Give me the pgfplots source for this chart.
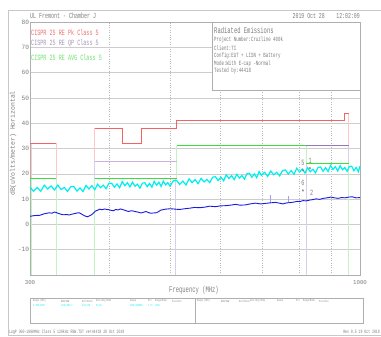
\documentclass[border=0pt]{standalone}
\usepackage{pgfplots}
\pgfplotsset{compat=1.18}
\usepackage{fontspec}
\setmainfont{Liberation Sans}
\newfontfamily\pf[FakeStretch=0.64]{Liberation Mono}
\newfontfamily\pfw[FakeStretch=0.95]{Liberation Mono}
\definecolor{framegray}{RGB}{200,200,200}
\definecolor{axisgray}{RGB}{175,175,175}
\definecolor{gridgray}{RGB}{205,205,205}
\definecolor{vgrid}{RGB}{185,185,185}
\definecolor{txtgray}{RGB}{125,125,125}
\definecolor{limred}{RGB}{242,100,100}
\definecolor{limqpL}{RGB}{200,178,222}
\definecolor{limqp}{RGB}{150,120,185}
\definecolor{limgreen}{RGB}{60,222,60}
\definecolor{vpink}{RGB}{255,200,200}
\definecolor{vgreen}{RGB}{195,242,195}
\definecolor{vlav}{RGB}{215,208,236}
\definecolor{pkcyan}{RGB}{0,238,238}
\definecolor{qpblue}{RGB}{25,25,225}
\definecolor{spike}{RGB}{160,160,240}
\definecolor{legred}{RGB}{240,110,110}
\definecolor{legqp}{RGB}{165,150,185}
\definecolor{leggreen}{RGB}{110,225,110}
\begin{document}
\begin{tikzpicture}[x=1pt,y=1pt]
\path[use as bounding box] (0,0) rectangle (381,337);
\draw[framegray, line width=0.6pt] (381,327) -- (8,327) -- (8,1.3) -- (381,1.3);
\begin{axis}[
  at={(30pt,62pt)}, anchor=south west, scale only axis,
  width=330pt, height=253pt,
  xmode=log, xmin=300, xmax=1000, ymin=-20, ymax=80,
  xtick={300,400,500,600,700,800,900,1000},
  xticklabels={300,,,,,,,1000},
  ytick={-20,-10,0,10,20,30,40,50,60,70,80},
  yticklabels={,-10,0,10,20,30,40,50,60,70,80},
  major tick length=0pt, minor tick num=0,
  xmajorgrids, ymajorgrids,
  x grid style={vgrid, dotted, line width=0.4pt},
  y grid style={gridgray, line width=0.5pt},
  axis line style={axisgray, line width=0.6pt},
  xticklabel style={font=\pfw\fontsize{6}{6}\selectfont, text=txtgray, anchor=north, yshift=-1.5pt},
  yticklabel style={font=\pfw\fontsize{6.5}{6.5}\selectfont, text=txtgray, anchor=east, inner sep=0.8pt},
  clip=false,
]
% light band-edge verticals
\addplot[vgreen, line width=0.7pt] coordinates {(301,18) (301,-20)};
\addplot[vgreen, line width=0.7pt] coordinates {(330,18) (330,-20)};
\addplot[vgreen, line width=0.7pt] coordinates {(380,18) (380,-20)};
\addplot[vgreen, line width=0.7pt] coordinates {(512,31) (512,18)};
\addplot[vgreen, line width=0.7pt] coordinates {(821,31) (821,24)};
\addplot[vgreen, line width=0.7pt] coordinates {(960,24) (960,-20)};
\addplot[vlav, line width=0.7pt] coordinates {(380,25) (380,18)};
\addplot[vlav, line width=0.7pt] coordinates {(510,18) (510,-20)};
\addplot[vlav, line width=0.7pt] coordinates {(821,24) (821,-20)};
\addplot[vlav, line width=0.7pt] coordinates {(960,31) (960,24)};
\addplot[vpink, line width=0.7pt] coordinates {(301,32) (301,18)};
\addplot[vpink, line width=0.7pt] coordinates {(330,32) (330,18)};
\addplot[vpink, line width=0.7pt] coordinates {(380,38) (380,25)};
\addplot[vpink, line width=0.7pt] coordinates {(960,44) (960,31)};
% peak trace
\addplot[pkcyan, line width=1.2pt] coordinates {
(300,14.7)(304,13.1)(308,14.6)(312,13.1)(316,15.5)(320,14.0)(324,15.2)(328,13.6)(332,15.5)(336,13.8)
(340,14.6)(344,13.0)(348,14.9)(352,15.0)(356,13.2)(360,14.4)(364,13.0)(368,15.4)(372,14.0)(376,15.3)
(380,13.7)(384,15.9)(388,14.5)(392,15.5)(396,14.1)(400,16.2)(404,16.3)(408,14.7)(412,16.0)(416,14.5)
(420,16.9)(424,15.3)(428,16.5)(432,14.8)(436,16.7)(440,15.1)(444,15.9)(448,14.3)(452,16.3)(456,16.5)
(460,14.9)(464,16.2)(468,14.7)(472,17.0)(476,15.5)(480,16.7)(484,15.0)(488,17.1)(492,15.6)(496,16.5)
(500,15.1)(506,17.2)(512,17.4)(518,15.8)(524,17.1)(530,15.6)(536,18.0)(542,16.5)(548,17.7)(554,16.1)
(560,18.2)(566,16.8)(572,17.8)(578,16.5)(584,18.6)(590,18.9)(596,17.3)(602,18.7)(608,17.2)(614,19.6)
(620,18.1)(626,19.3)(632,17.7)(638,19.8)(644,18.3)(650,19.3)(656,17.9)(662,20.0)(668,20.2)(674,18.6)
(680,20.0)(686,18.5)(692,20.9)(698,19.4)(706,20.6)(714,19.0)(722,21.1)(730,19.6)(738,20.6)(746,19.2)
(754,21.3)(762,21.5)(770,19.9)(778,21.3)(786,19.8)(794,22.2)(802,20.7)(810,21.9)(818,20.3)(826,22.4)
(834,20.8)(842,21.8)(850,20.4)(858,22.5)(866,22.7)(874,21.0)(882,22.4)(890,20.9)(898,23.3)(906,21.7)
(914,22.8)(922,21.1)(930,23.2)(938,21.6)(946,22.5)(954,21.0)(962,22.9)(970,23.0)(978,21.2)(986,22.5)
(994,20.8)(1000,23.1)};
% spikes
\addplot[spike, line width=0.5pt] coordinates {(720,8.4) (720,11.6)};
\addplot[spike, line width=0.5pt] coordinates {(770,8.6) (770,11.4)};
% QP/AVG trace
\addplot[qpblue, line width=0.9pt] coordinates {
(300,3.2)(305,3.5)(311,3.6)(316,4.2)(322,4.6)(325,4.4)(328,4.9)(331,4.6)(333,4.3)(336,4.0)(339,3.8)
(343,3.9)(346,3.7)(349,4.0)(352,4.2)(356,4.5)(359,4.6)(362,4.1)(366,3.4)(370,3.0)(372,3.3)(375,3.7)
(378,4.4)(381,5.3)(384,5.6)(387,6.0)(390,5.8)(394,6.1)(397,5.9)(400,5.8)(404,5.5)(407,5.4)(410,5.9)
(414,5.7)(417,6.1)(420,5.9)(424,5.6)(427,5.3)(430,5.1)(434,5.4)(437,5.3)(440,5.1)(444,4.9)(447,4.7)
(450,4.5)(454,4.8)(458,5.1)(462,4.7)(466,4.4)(470,4.5)(476,4.6)(480,5.1)(483,5.6)(487,5.8)(491,6.0)
(496,6.1)(500,6.2)(506,6.1)(511,6.0)(518,5.9)(528,6.2)(537,6.4)(547,6.7)(557,6.6)(567,6.8)(578,7.2)
(590,7.0)(600,7.3)(612,7.4)(623,7.6)(635,7.9)(646,7.6)(658,7.7)(670,8.1)(683,8.4)(696,8.1)(708,8.3)
(720,8.5)(735,8.7)(745,8.4)(755,8.1)(765,8.5)(775,8.6)(785,8.8)(795,9.1)(803,9.0)(812,9.4)(822,9.3)
(832,9.6)(842,9.8)(852,10.1)(863,9.9)(875,10.3)(887,10.5)(899,10.8)(911,10.5)(923,10.3)(935,10.6)
(947,10.5)(960,10.8)(972,10.9)(986,10.5)(1000,10.6)};
% QP limit
\addplot[limqpL, line width=1pt] coordinates {(380,25) (512,25)};
\addplot[limqp, line width=1pt] coordinates {(512,31) (960,31)};
% AVG limit
\addplot[limgreen, line width=1pt] coordinates {(300,18) (330,18)};
\addplot[limgreen, line width=1pt] coordinates {(380,18) (512,18)};
\addplot[limgreen, line width=1pt] coordinates {(512,31) (821,31)};
\addplot[limgreen, line width=1pt] coordinates {(821,24) (960,24)};
% Peak limit
\addplot[limred, line width=1pt] coordinates {(300,32) (330,32)};
\addplot[limred, line width=1pt] coordinates {(380,38) (420,38) (420,32) (451,32) (451,38) (512,38) (512,41) (944,41) (944,44) (960,44)};
% markers
\addplot[only marks, mark=o, mark size=0.9pt, txtgray, line width=0.4pt] coordinates {(812,21.4) (833,22.2) (812,13.4)};
\node[font=\pf\fontsize{8}{8}\selectfont, text=txtgray] at (axis cs:812,24.3) {5};
\node[font=\pf\fontsize{8}{8}\selectfont, text=txtgray] at (axis cs:834,25.1) {1};
\node[font=\pf\fontsize{8}{8}\selectfont, text=txtgray] at (axis cs:812,16.6) {6};
\node[font=\pf\fontsize{8}{8}\selectfont, text=txtgray] at (axis cs:838,12.3) {2};
\end{axis}
% info box
\draw[axisgray, fill=white, line width=0.6pt] (212,315) rectangle (360.5,247);
\begin{scope}[every node/.style={anchor=west, inner sep=0pt, text=txtgray}]
\node[font=\pf\fontsize{8.6}{8.6}\selectfont] at (214,307) {Radiated Emissions};
\node[font=\pf\fontsize{6.4}{6.4}\selectfont] at (214,297) {Project Number:Cruzline 400k};
\node[font=\pf\fontsize{6.4}{6.4}\selectfont] at (214,289) {Client:TI};
\node[font=\pf\fontsize{6.4}{6.4}\selectfont] at (214,281) {Config:EUT + LISN + Battery};
\node[font=\pf\fontsize{6.4}{6.4}\selectfont] at (214,273) {Mode:With E-cap -Normal};
\node[font=\pf\fontsize{6.4}{6.4}\selectfont] at (214,266) {Tested by:44418};
% title and date
\node[font=\pf\fontsize{7.8}{7.8}\selectfont] at (30,321) {UL Fremont - Chamber J};
\node[font=\pf\fontsize{7.6}{7.6}\selectfont, anchor=east] at (360,321) {2019 Oct 28\ \ \ \ 12:02:09};
% legend texts
\node[font=\pf\fontsize{8}{8}\selectfont, text=legred] at (31,304) {CISPR 25 RE Pk Class 5};
\node[font=\pf\fontsize{8}{8}\selectfont, text=legqp] at (31,294) {CISPR 25 RE QP Class 5};
\node[font=\pf\fontsize{8}{8}\selectfont, text=leggreen] at (31,279) {CISPR 25 RE AVG Class 5};
% footer
\node[font=\pf\fontsize{5}{5}\selectfont] at (9,4.8) {LogP 300-1000MHz Class 5 120kHz RBW.TST ver44418 28 Oct 2019};
\node[font=\pf\fontsize{5}{5}\selectfont, anchor=east] at (380,4.8) {Rev 9.5 19 Oct 2018};
% table
\node[font=\pf\fontsize{3}{3}\selectfont] at (33,36) {Range (MHz)};
\node[font=\pf\fontsize{3}{3}\selectfont] at (61,36) {RBW/VBW};
\node[font=\pf\fontsize{3}{3}\selectfont] at (82,36) {Ref/Atten};
\node[font=\pf\fontsize{3}{3}\selectfont] at (96,36) {Sett/Avg Mode};
\node[font=\pf\fontsize{3}{3}\selectfont] at (130,36) {Sweep};
\node[font=\pf\fontsize{3}{3}\selectfont] at (148,36) {Pts};
\node[font=\pf\fontsize{3}{3}\selectfont] at (155,36) {Range/Mode};
\node[font=\pf\fontsize{3}{3}\selectfont] at (172,36) {Position};
\node[font=\pf\fontsize{3}{3}\selectfont, text=pkcyan] at (33,31.3) {1:300-1000};
\node[font=\pf\fontsize{3}{3}\selectfont, text=pkcyan] at (61,31.3) {120k/500 k};
\node[font=\pf\fontsize{3}{3}\selectfont, text=pkcyan] at (82,31.3) {Auto/10};
\node[font=\pf\fontsize{3}{3}\selectfont, text=pkcyan] at (96,31.3) {Pk/Av};
\node[font=\pf\fontsize{3}{3}\selectfont, text=pkcyan] at (130,31.3) {10ms/100MHz};
\node[font=\pf\fontsize{3}{3}\selectfont, text=pkcyan] at (148,31.3) {1 Pc};
\node[font=\pf\fontsize{3}{3}\selectfont, text=pkcyan] at (155,31.3) {LPDA};
\node[font=\pf\fontsize{3}{3}\selectfont] at (197,36) {Range (MHz)};
\node[font=\pf\fontsize{3}{3}\selectfont] at (221,36) {RBW/VBW};
\node[font=\pf\fontsize{3}{3}\selectfont] at (239,36) {Ref/Atten};
\node[font=\pf\fontsize{3}{3}\selectfont] at (250,36) {Sett/Avg Mode};
\node[font=\pf\fontsize{3}{3}\selectfont] at (277,36) {Sweep};
\node[font=\pf\fontsize{3}{3}\selectfont] at (296,36) {Pts};
\node[font=\pf\fontsize{3}{3}\selectfont] at (303,36) {Range/Mode};
\node[font=\pf\fontsize{3}{3}\selectfont] at (319,36) {Position};
\end{scope}
\draw[axisgray, line width=0.6pt] (30.5,39) rectangle (363,14);
\draw[axisgray, line width=0.6pt] (195,39) -- (195,14);
% axis labels
\node[font=\pfw\fontsize{6.8}{6.8}\selectfont, text=txtgray, rotate=90] at (13,193.5) {dB(uVolts/meter) Horizontal};
\node[font=\pf\fontsize{8.6}{8.6}\selectfont, text=txtgray] at (194,47) {Frequency (MHz)};
\end{tikzpicture}
\end{document}
